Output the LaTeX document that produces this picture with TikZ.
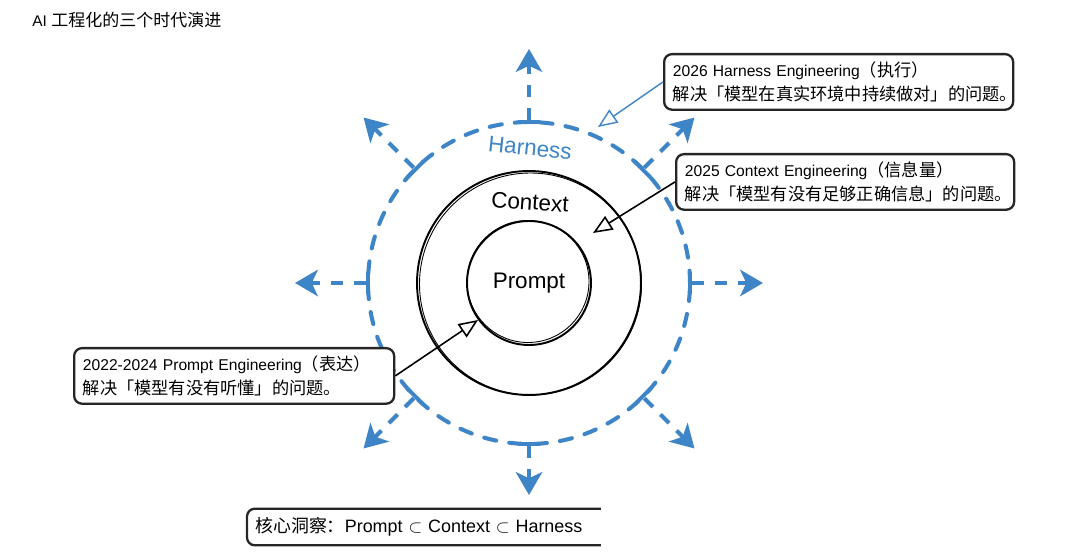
\documentclass[tikz,border=0pt]{standalone}
\usepackage{fontspec}
\setmainfont{Liberation Sans}
\newfontfamily\cjk[Scale=1.1]{Noto Sans CJK SC}
\newfontfamily\cjkplain{Noto Sans CJK SC}
\usetikzlibrary{arrows.meta}
\definecolor{hblue}{HTML}{3D85C6}
\tikzset{
  notebox/.style={draw=black!85,line width=1.3pt,rounded corners=4.5pt,fill=white,
    align=left,anchor=north west,inner xsep=5pt,inner ysep=4.4pt,
    font=\fontsize{8.9}{13.6}\selectfont},
  ringlabel/.style={font=\fontsize{12.8}{15}\selectfont},
  spokearrow/.style={hblue,line width=2.3pt,dash pattern=on 7pt off 6pt,
    -{Stealth[length=13pt,width=15pt,inset=3.5pt]}},
  spokebase/.style={hblue,line width=2.3pt},
  pointarrow/.style={line width=0.9pt,-{Triangle[length=11pt,width=9pt,fill=white]}}
}
\begin{document}
\begin{tikzpicture}[x=0.02cm,y=0.02cm]
\fill[white] (0,0) rectangle (1080,555);
\useasboundingbox (0,0) rectangle (1080,555);
\node[anchor=west,inner xsep=0pt,font=\fontsize{8.8}{11}\selectfont] (title) at (32,535) {AI {\cjk 工程化的三个时代演进}};
\coordinate (o) at (529,272);
\node[circle,draw=hblue,line width=2.3pt,dash pattern=on 7pt off 7.5pt,line cap=round,
  minimum size=6.44cm,inner sep=0pt] (harness) at (o) {};
\foreach \a/\r in {0/234,45/234,90/234,135/234,180/234,225/234,270/212,315/234}{
  \draw[spokearrow] (harness.\a) -- ([shift={(\a:\r)}]o);
  \draw[spokebase] ([shift={(\a-4:161)}]o) -- ([shift={(\a+4:161)}]o);
}
\node[circle,draw,line width=1.1pt,minimum size=4.48cm,inner sep=0pt] (context) at (o) {};
\draw[line width=0.5pt] ([shift={(1.5,-1)}]o) circle[radius=111];
\node[circle,draw,line width=1.1pt,minimum size=2.48cm,inner sep=0pt,ringlabel] (prompt) at (o) {Prompt};
\draw[line width=0.5pt] ([shift={(-1,1.5)}]o) circle[radius=61];
\node[ringlabel,hblue,rotate=-6] (harnesslabel) at (530,407) {Harness};
\node[ringlabel,rotate=-4] (contextlabel) at (530,353) {Context};
\node[notebox,text width=6.63cm] (harnessnote) at (663,502)
  {2026 Harness Engineering{\cjk（执行）}\\{\cjk 解决「模型在真实环境中持续做对」的问题。}};
\node[notebox,text width=6.41cm] (contextnote) at (675,402)
  {2025 Context Engineering{\cjk（信息量）}\\{\cjk 解决「模型有没有足够正确信息」的问题。}};
\node[notebox,text width=6.05cm] (promptnote) at (73,208)
  {2022-2024 Prompt Engineering{\cjk（表达）}\\{\cjk 解决「模型有没有听懂」的问题。}};
\node[anchor=west,inner xsep=4.5pt,text width=6.75cm,minimum height=0.72cm,
  font=\fontsize{10.2}{12}\selectfont] (insight) at (247,28)
  {{\cjkplain 核心洞察：}Prompt $\subset$ Context $\subset$ Harness};
\draw[line width=1.3pt,draw=black!85,rounded corners=4.5pt]
  (insight.north east) -| (insight.west) |- (insight.south east);
\coordinate (hnstip) at (598,428);
\coordinate (ctxtip) at (593,322);
\draw[pointarrow,hblue,line width=0.8pt] (harnessnote.west) -- (hnstip);
\draw[pointarrow] (contextnote.west) -- (ctxtip);
\draw[pointarrow] (promptnote.east) -- (prompt.216);
\end{tikzpicture}
\end{document}
